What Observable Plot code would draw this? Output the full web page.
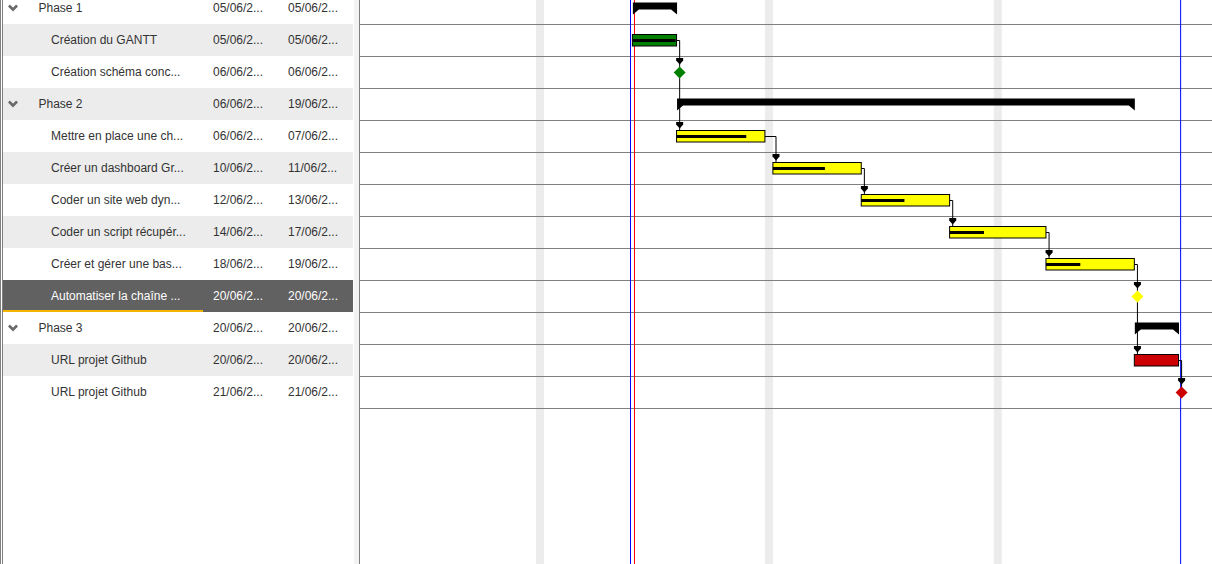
<!DOCTYPE html>
<html>
<head>
<meta charset="utf-8">
<script src="https://cdn.jsdelivr.net/npm/d3@7"></script>
<script src="https://cdn.jsdelivr.net/npm/@observablehq/plot@0.6"></script>
<style>
  html, body { margin: 0; padding: 0; background: #fff; }
  #wrap { position: relative; width: 1212px; height: 564px; overflow: hidden; font-family: "Liberation Sans", Arial, sans-serif; }
  #border { position: absolute; left: 0; top: 0; width: 0; height: 564px; border-left: 3px double #808080; }
  #grid { position: absolute; left: 3px; top: 0; width: 350px; height: 564px; }
  #split { position: absolute; left: 354px; top: 0; width: 5px; height: 564px; background: #f3f3f3; }
  #vline { position: absolute; left: 359px; top: 0; width: 1px; height: 564px; background: #808080; }
  #chart { position: absolute; left: 360px; top: 0; width: 852px; height: 564px; }
  svg { display: block; }
</style>
</head>
<body>
<div id="wrap">
  <div id="border"></div>
  <div id="grid"></div>
  <div id="split"></div>
  <div id="vline"></div>
  <div id="chart"></div>
</div>
<script>
// ---------------- DATA ----------------
const taskNames = [
  "Phase 1", "Création du GANTT", "Création schéma conc...",
  "Phase 2", "Mettre en place une ch...", "Créer un dashboard Gr...", "Coder un site web dyn...",
  "Coder un script récupér...", "Créer et gérer une bas...", "Automatiser la chaîne ...",
  "Phase 3", "URL projet Github", "URL projet Github"
];
const taskTypes = [
  "summary", "task", "milestone",
  "summary", "task", "task", "task", "task", "task", "milestone",
  "summary", "task", "milestone"
];
const taskPhases = [1, 1, 1, 2, 2, 2, 2, 2, 2, 2, 3, 3, 3];
const startDates = [
  "2024-06-05", "2024-06-05", "2024-06-06",
  "2024-06-06", "2024-06-06", "2024-06-10", "2024-06-12", "2024-06-14", "2024-06-18", "2024-06-20",
  "2024-06-20", "2024-06-20", "2024-06-21"
];
const endDates = [
  "2024-06-05", "2024-06-05", "2024-06-06",
  "2024-06-19", "2024-06-07", "2024-06-11", "2024-06-13", "2024-06-17", "2024-06-19", "2024-06-20",
  "2024-06-20", "2024-06-20", "2024-06-21"
];
const progressPercent = [null, 100, null, null, 80, 60, 50, 40, 40, null, null, 0, null];
// dependencies (finish-to-start), as [predecessor row, successor row]
const links = [[1, 2], [2, 4], [4, 5], [5, 6], [6, 7], [7, 8], [8, 9], [9, 11], [11, 12]];
const weekendStarts = ["2024-06-01", "2024-06-08", "2024-06-15"];
const markerDates = ["2024-06-04T22:42", "2024-06-05T00:53", "2024-06-21T00:53"];
const markerKinds = ["project", "today", "project"];
const selectedRow = 9;
const viewStart = "2024-05-28T00:22";
const viewEnd = "2024-06-21T18:12";

// ---------------- STYLE ----------------
const phaseColors = {1: "#008000", 2: "#ffff00", 3: "#cc0000"};
const markerColors = {project: "#0000ff", today: "#ff0000"};
const W = 852, GW = 350, H = 564, ROW = 32, SCROLL = 8;
const WEEKEND_DAY = 0.0905; // collapsed width of a non-working day (fraction of a working day)

// ---------------- TIME (non-working weekends collapsed) ----------------
const DAY = 864e5;
const ORIGIN = Date.UTC(2024, 5, 3);
const toMs = s => typeof s === "number" ? s : Date.parse(s.length === 10 ? s + "T00:00:00Z" : s + ":00Z");
const isWeekend = t => { const d = new Date(t).getUTCDay(); return d === 0 || d === 6; };
const dayWidth = t => isWeekend(t) ? WEEKEND_DAY : 1;
function U(s) {
  const t = toMs(s);
  const d0 = Math.floor(t / DAY) * DAY;
  let u = 0;
  if (d0 >= ORIGIN) for (let d = ORIGIN; d < d0; d += DAY) u += dayWidth(d);
  else for (let d = d0; d < ORIGIN; d += DAY) u -= dayWidth(d);
  return u + (t - d0) / DAY * dayWidth(d0);
}
function addWork(s, w) {
  let t = toMs(s);
  while (w > 1e-9) {
    if (isWeekend(t)) { t += DAY; continue; }
    const take = Math.min(1, w); t += take * DAY; w -= take;
  }
  return t;
}
function workDays(s, e) {
  let n = 0;
  for (let t = toMs(s); t <= toMs(e); t += DAY) if (!isWeekend(t)) n++;
  return n;
}

const rows = taskNames.map((name, i) => ({
  i, name, type: taskTypes[i], phase: taskPhases[i],
  start: startDates[i], end: endDates[i],
  x1: U(startDates[i]),
  x2: U(toMs(endDates[i]) + DAY),
  progress: progressPercent[i],
  color: phaseColors[taskPhases[i]]
}));

const u0 = U(viewStart), u1 = U(viewEnd);
const k = W / (u1 - u0);
const px = p => p / k;     // pixels -> day units
const py = p => p / ROW;   // pixels -> row units
const yDomain = [0, rows.length - 1];
const yRange = [ROW / 2 - SCROLL, ROW / 2 - SCROLL + ROW * (rows.length - 1)];
const MS_OFF = 2.6;

const tasks = rows.filter(d => d.type === "task");
const milestones = rows.filter(d => d.type === "milestone");
const summaries = rows.filter(d => d.type === "summary");

const summaryPts = summaries.flatMap(d => {
  const c = d.i, top = c - py(6), bot = c + py(1), tip = c + py(6), cap = px(6);
  return [[d.x1, top], [d.x2, top], [d.x2, tip], [d.x2 - cap, bot], [d.x1 + cap, bot], [d.x1, tip]]
    .map(([x, y]) => ({id: d.i, x, y}));
});

const connPoints = links.flatMap(([a, b], id) => {
  const A = rows[a], B = rows[b];
  const xb = B.x1 + px(MS_OFF);
  const yTop = B.i - py(6);
  if (A.type === "milestone") {
    const xa = A.x1 + px(MS_OFF);
    return [{id, x: xa, y: A.i + py(6)}, {id, x: xb, y: yTop}];
  }
  return [{id, x: A.x2, y: A.i}, {id, x: xb, y: A.i}, {id, x: xb, y: yTop}];
});

const arrowPts = links.flatMap(([a, b], id) => {
  const B = rows[b];
  const x = B.x1 + px(MS_OFF), t = B.i - py(14.5);
  return [[x - px(3.5), t], [x + px(3.5), t], [x + px(3.5), t + py(2.5)], [x, t + py(6.5)], [x - px(3.5), t + py(2.5)]]
    .map(([xx, yy]) => ({id, x: xx, y: yy}));
});

const markers = markerDates.map((d, i) => ({date: d, kind: markerKinds[i]}));

// ---------------- CHART ----------------
const chart = Plot.plot({
  width: W, height: H, margin: 0,
  style: {background: "transparent", fontFamily: "Liberation Sans, Arial, sans-serif"},
  x: {domain: [u0, u1], range: [0, W], axis: null},
  y: {domain: yDomain, range: yRange, axis: null},
  color: {type: "identity"},
  marks: [
    Plot.rect(weekendStarts, {x1: d => U(d), x2: d => U(toMs(d) + 2 * DAY), fill: "#ececec"}),
    Plot.ruleY(rows, {y: d => d.i + 0.5, stroke: "#808080", strokeWidth: 1}),
    Plot.ruleX(markers, {x: d => U(d.date), stroke: d => markerColors[d.kind], strokeWidth: 1}),
    Plot.line(connPoints, {x: "x", y: "y", z: "id", stroke: "#000", strokeWidth: 1, curve: "linear"}),
    Plot.rect(tasks, {x1: "x1", x2: "x2", y1: d => d.i - py(5.5), y2: d => d.i + py(6), fill: "color", stroke: "#000", strokeWidth: 1}),
    Plot.rect(tasks.filter(d => d.progress > 0), {
      x1: "x1",
      x2: d => U(addWork(d.start, d.progress / 100 * workDays(d.start, d.end))),
      y1: d => d.i - py(1), y2: d => d.i + py(2), fill: "#000", insetRight: 1
    }),
    Plot.line(summaryPts, {x: "x", y: "y", z: "id", fill: "#000", stroke: "none"}),
    Plot.dot(milestones, {x: d => d.x1 + px(MS_OFF), y: "i", symbol: "diamond2", r: 5.4, fill: "color", stroke: "none"}),
    Plot.line(arrowPts, {x: "x", y: "y", z: "id", fill: "#000", stroke: "none"})
  ]
});
document.getElementById("chart").appendChild(chart);

// ---------------- GRID ----------------
const chevron = {
  draw(ctx, size) {
    const s = Math.sqrt(size) / 2;
    ctx.moveTo(-s, -s / 2); ctx.lineTo(0, s / 2); ctx.lineTo(s, -s / 2);
  }
};
const col = {toggle: 9.5, phase: 35, task: 47.5, start: 209.5, end: 284.5, nameWidth: 200};
const fmtDate = s => s.slice(8, 10) + "/" + s.slice(5, 7) + "/2...";
const textFill = d => d.i === selectedRow ? "#ffffff" : "#333333";
const sel = rows.filter(d => d.i === selectedRow);

const grid = Plot.plot({
  width: GW, height: H, margin: 0,
  style: {background: "transparent", fontFamily: "Liberation Sans, Arial, sans-serif", fontSize: "12px"},
  x: {domain: [0, GW], range: [0, GW], axis: null},
  y: {domain: yDomain, range: yRange, axis: null},
  color: {type: "identity"},
  marks: [
    Plot.rect(rows.filter(d => d.i % 2 === 1), {y1: d => d.i - 0.5, y2: d => d.i + 0.5, fill: "#ececec"}),
    Plot.rect(sel, {y1: d => d.i - 0.5, y2: d => d.i + 0.5, fill: "#616161"}),
    Plot.rect(sel, {x1: 0, x2: col.nameWidth, y1: d => d.i + 0.5 - py(2), y2: d => d.i + 0.5, fill: "#f5b400"}),
    Plot.dot(summaries, {x: col.toggle, y: "i", dy: -1, symbol: chevron, r: 4.6, fill: "none", stroke: "#6b6b6b", strokeWidth: 2.6, strokeLinejoin: "miter"}),
    Plot.text(rows, {x: d => d.type === "summary" ? col.phase : col.task, y: "i", text: "name", textAnchor: "start", fontSize: 12, fill: textFill}),
    Plot.text(rows, {x: col.start, y: "i", text: d => fmtDate(d.start), textAnchor: "start", fontSize: 12, fill: textFill}),
    Plot.text(rows, {x: col.end, y: "i", text: d => fmtDate(d.end), textAnchor: "start", fontSize: 12, fill: textFill})
  ]
});
document.getElementById("grid").appendChild(grid);
</script>
</body>
</html>
